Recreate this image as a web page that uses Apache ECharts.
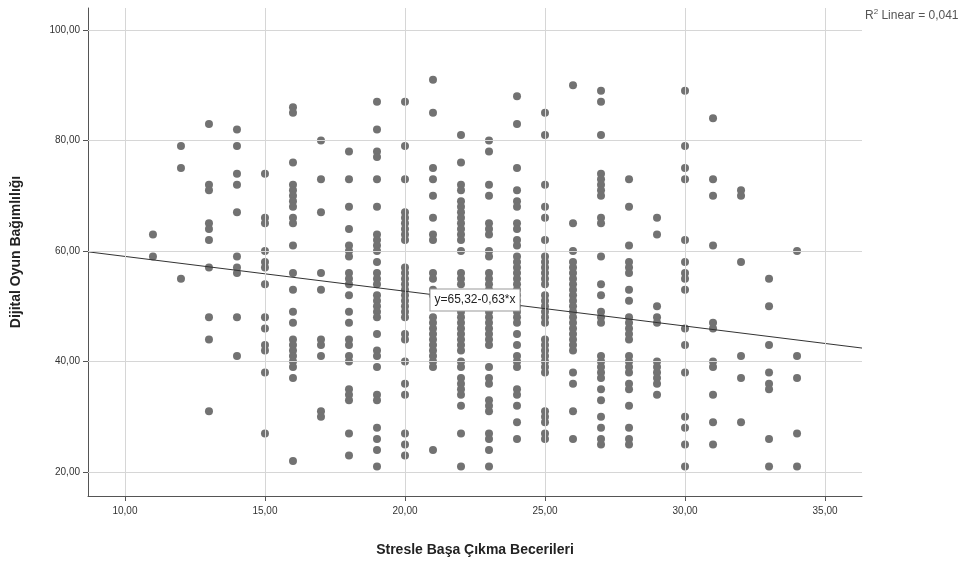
<!DOCTYPE html>
<html>
<head>
<meta charset="utf-8">
<script src="https://cdn.jsdelivr.net/npm/echarts@6/dist/echarts.min.js"></script>
<style>html,body{margin:0;padding:0;background:#fff;}#c{width:966px;height:562px;}</style>
</head>
<body>
<div id="c"></div>
<script>
// Tick labels
const xTicks = [10, 15, 20, 25, 30, 35];
const yTicks = [20, 40, 60, 80, 100];
// Observed values: Dijital Oyun Bağımlılığı per Stresle Başa Çıkma Becerileri score
const y11 = [63, 59];
const y12 = [79, 75, 55];
const y13 = [83, 72, 71, 65, 64, 62, 57, 48, 44, 31];
const y14 = [82, 79, 74, 72, 67, 59, 57, 56, 48, 41];
const y15 = [74, 66, 65, 60, 58, 57, 54, 48, 46, 43, 42, 38, 27];
const y16 = [86, 85, 76, 72, 71, 70, 69, 68, 66, 65, 61, 56, 53, 49, 47, 44, 43, 42, 41, 40, 39, 37, 22];
const y17 = [80, 73, 67, 56, 53, 44, 43, 41, 31, 30];
const y18 = [78, 73, 68, 64, 61, 60, 59, 56, 55, 54, 52, 49, 47, 44, 43, 41, 40, 35, 34, 33, 27, 23];
const y19 = [87, 82, 78, 77, 73, 68, 63, 62, 61, 60, 58, 56, 55, 54, 52, 51, 50, 49, 48, 45, 42, 41, 39, 34, 33, 28, 26, 24, 21];
const y20 = [87, 79, 73, 67, 66, 65, 64, 63, 62, 57, 56, 55, 54, 53, 52, 51, 50, 49, 48, 45, 44, 40, 36, 34, 27, 25, 23];
const y21 = [91, 85, 75, 73, 70, 66, 63, 62, 56, 55, 53, 52, 48, 47, 46, 45, 44, 43, 42, 41, 40, 39, 24];
const y22 = [81, 76, 72, 71, 69, 68, 67, 66, 65, 64, 63, 62, 60, 56, 55, 54, 51, 50, 49, 48, 47, 46, 45, 44, 43, 42, 40, 39, 37, 36, 35, 34, 32, 27, 21];
const y23 = [80, 78, 72, 70, 65, 64, 63, 60, 59, 56, 55, 54, 53, 52, 51, 50, 49, 48, 47, 46, 45, 44, 43, 39, 37, 36, 33, 32, 31, 27, 26, 24, 21];
const y24 = [88, 83, 75, 71, 69, 68, 65, 64, 62, 61, 59, 58, 57, 56, 55, 54, 53, 52, 51, 50, 49, 48, 47, 45, 43, 41, 40, 39, 35, 34, 32, 29, 26];
const y25 = [85, 81, 72, 68, 66, 62, 59, 58, 57, 56, 55, 54, 52, 51, 50, 49, 48, 47, 44, 43, 42, 41, 40, 39, 38, 31, 30, 29, 27, 26];
const y26 = [90, 65, 60, 58, 57, 56, 55, 54, 53, 52, 51, 50, 49, 48, 47, 46, 45, 44, 43, 42, 38, 36, 31, 26];
const y27 = [89, 87, 81, 74, 73, 72, 71, 70, 66, 65, 59, 54, 52, 49, 48, 47, 41, 40, 39, 38, 37, 35, 33, 30, 28, 26, 25];
const y28 = [73, 68, 61, 58, 57, 56, 53, 51, 48, 47, 46, 45, 44, 41, 40, 39, 38, 36, 35, 32, 28, 26, 25];
const y29 = [66, 63, 50, 48, 47, 40, 39, 38, 37, 36, 34];
const y30 = [89, 79, 75, 73, 62, 58, 56, 55, 53, 46, 43, 38, 30, 28, 25, 21];
const y31 = [84, 73, 70, 61, 47, 46, 40, 39, 34, 29, 25];
const y32 = [71, 70, 58, 41, 37, 29];
const y33 = [55, 50, 43, 38, 36, 35, 26, 21];
const y34 = [60, 41, 37, 27, 21];
const columns = [
  [11, y11], [12, y12], [13, y13], [14, y14], [15, y15], [16, y16], [17, y17], [18, y18],
  [19, y19], [20, y20], [21, y21], [22, y22], [23, y23], [24, y24], [25, y25], [26, y26],
  [27, y27], [28, y28], [29, y29], [30, y30], [31, y31], [32, y32], [33, y33], [34, y34]
];
// Reported linear fit
const fitIntercept = 65.32;
const fitSlope = -0.63;
const fitLabel = 'y=65,32-0,63*x';
const r2Text = '0,041';

const xMin = 8.68, xMax = 36.32, yMin = 15.67, yMax = 103.97;

const points = [];
columns.forEach(([x, ys]) => ys.forEach(y => points.push([x, y])));
const fitLine = [[xMin, fitIntercept + fitSlope * xMin], [xMax, fitIntercept + fitSlope * xMax]];
const labelX = 22.5;

const fmt = v => Number(v).toFixed(2).replace('.', ',');
const gridLines = [].concat(
  xTicks.map(v => ({ xAxis: v })),
  yTicks.map(v => ({ yAxis: v }))
);
const FONT = 'Liberation Sans, Arial, sans-serif';

const chart = echarts.init(document.getElementById('c'), null, { renderer: 'canvas' });
chart.setOption({
  animation: false,
  backgroundColor: '#fff',
  textStyle: { fontFamily: FONT },
  grid: { left: 88, right: 104, top: 8, bottom: 65, containLabel: false },
  xAxis: {
    type: 'value', min: xMin, max: xMax,
    name: 'Stresle Başa Çıkma Becerileri', nameLocation: 'middle', nameGap: 47,
    nameTextStyle: { fontSize: 14, fontWeight: 'bold', color: '#222', fontFamily: FONT },
    axisLine: { show: true, lineStyle: { color: '#555', width: 1 } },
    axisTick: { show: true, length: 5, inside: false, customValues: xTicks, lineStyle: { color: '#555' } },
    axisLabel: { customValues: xTicks, formatter: fmt, fontSize: 10, color: '#333', margin: 10 },
    splitLine: { show: false }
  },
  yAxis: {
    type: 'value', min: yMin, max: yMax,
    name: 'Dijital Oyun Bağımlılığı', nameLocation: 'middle', nameGap: 65, nameRotate: 90,
    nameTextStyle: { fontSize: 14, fontWeight: 'bold', color: '#222', fontFamily: FONT },
    axisLine: { show: true, lineStyle: { color: '#555', width: 1 } },
    axisTick: { show: true, length: 5, inside: false, customValues: yTicks, lineStyle: { color: '#555' } },
    axisLabel: { customValues: yTicks, formatter: fmt, fontSize: 10, color: '#333', margin: 8 },
    splitLine: { show: false }
  },
  series: [
    {
      type: 'line', data: [], z: 1, silent: true,
      markLine: {
        silent: true, symbol: ['none', 'none'], animation: false,
        label: { show: false },
        lineStyle: { color: '#d6d6d6', type: 'solid', width: 1 },
        emphasis: { disabled: true },
        data: gridLines
      }
    },
    {
      type: 'scatter', data: points, z: 3,
      symbol: 'circle', symbolSize: 8,
      itemStyle: { color: '#727272', opacity: 1 },
      silent: true
    },
    {
      type: 'line', data: fitLine, z: 4, silent: true,
      symbol: 'none', showSymbol: false,
      lineStyle: { color: '#333', width: 1 }
    },
    {
      type: 'scatter', z: 6, zlevel: 1, silent: true,
      data: [[labelX, fitIntercept + fitSlope * labelX]],
      symbol: 'circle', symbolSize: 1,
      itemStyle: { color: '#fff' },
      label: {
        show: true, position: 'inside', formatter: fitLabel, opacity: 1,
        backgroundColor: '#ffffff', borderColor: '#999', borderWidth: 1,
        padding: [5, 4, 4, 4], fontSize: 12, color: '#222', fontFamily: FONT
      }
    }
  ],
  graphic: [{
    type: 'text', left: 865, top: 8, z: 10,
    style: {
      text: '{a|R}{s|2}{a| Linear = ' + r2Text + '}',
      rich: {
        a: { fontSize: 12, fill: '#555', fontFamily: FONT, verticalAlign: 'bottom' },
        s: { fontSize: 8, fill: '#555', fontFamily: FONT, verticalAlign: 'top', padding: [0, 0, 6, 0] }
      }
    }
  }]
});
</script>
</body>
</html>
